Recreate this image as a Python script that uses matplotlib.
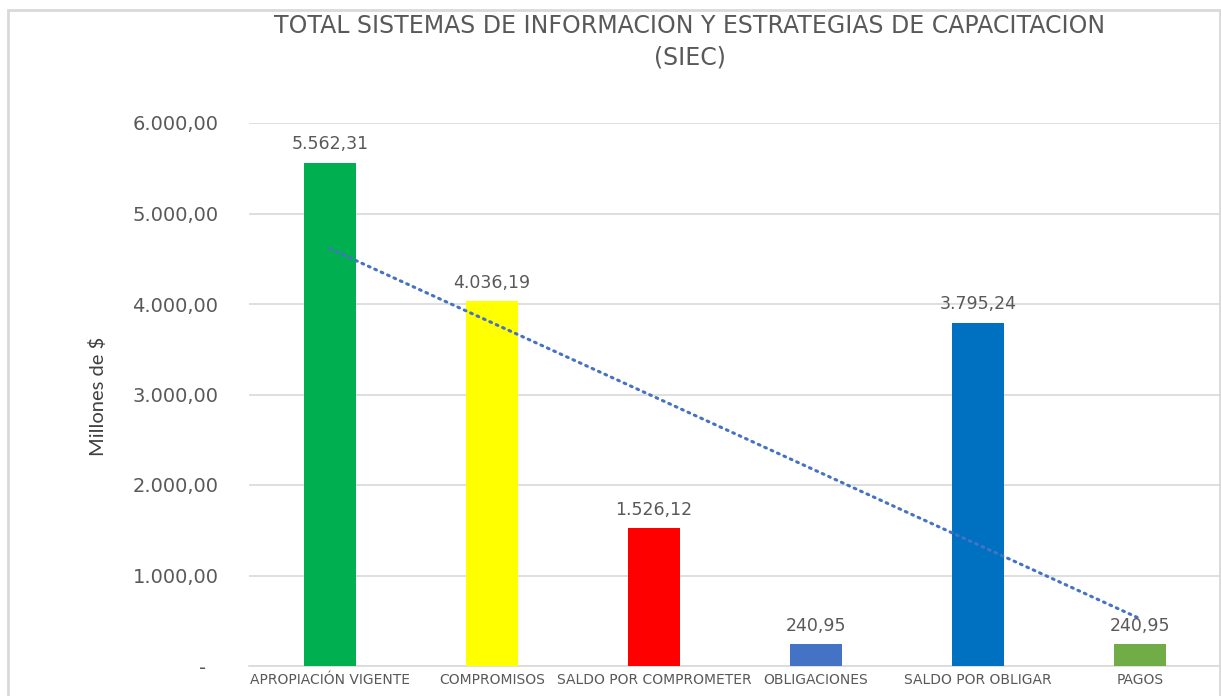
import numpy as np
import matplotlib
matplotlib.use("Agg")
from matplotlib import pyplot as plt
from matplotlib.patches import Rectangle
from matplotlib.ticker import FuncFormatter

# datos del grafico (millones de $)
categorias = ["APROPIACIÓN VIGENTE", "COMPROMISOS", "SALDO POR COMPROMETER",
              "OBLIGACIONES", "SALDO POR OBLIGAR", "PAGOS"]
valores = [5562.31, 4036.19, 1526.12, 240.95, 3795.24, 240.95]
colores = ["#00B050", "#FFFF00", "#FF0000", "#4472C4", "#0070C0", "#70AD47"]
ticks_y = [0, 1000, 2000, 3000, 4000, 5000, 6000]

gris = "#595959"
linea = "#D9D9D9"


def formato_es(v):
    s = f"{v:,.2f}"
    return s.replace(",", "X").replace(".", ",").replace("X", ".")


fig = plt.figure(figsize=(12.21, 6.96), dpi=100)
ax = fig.add_axes([249 / 1221, 1 - 666 / 696, 972 / 1221, (666 - 123) / 696])

x = np.arange(len(categorias))
ax.bar(x, valores, width=0.315, color=colores, zorder=3)

# linea de tendencia lineal (como en Excel)
m, b = np.polyfit(x, valores, 1)
ax.plot(x, m * x + b, color="#4472C4", lw=2.2, ls=(0, (0.6, 1.7)),
        dash_capstyle="round", zorder=4)

for xi, v in zip(x, valores):
    ax.annotate(formato_es(v), (xi, v), xytext=(0, 9.5), textcoords="offset points",
                ha="center", va="baseline", fontsize=12.5, color=gris, zorder=5)

ax.set_xlim(-0.5, 5.5)
ax.set_ylim(0, 6000)
ax.set_yticks(ticks_y)
ax.yaxis.set_major_formatter(FuncFormatter(lambda v, p: "-  " if v == 0 else formato_es(v)))
ax.set_xticks(x)
ax.set_xticklabels(categorias, fontsize=10, color=gris)
ax.tick_params(axis="x", length=0, pad=5)
ax.tick_params(axis="y", length=0, pad=22, labelsize=14, labelcolor=gris)

ax.grid(axis="y", color=linea, lw=1.2, zorder=0)
for s in ["top", "right", "left"]:
    ax.spines[s].set_visible(False)
ax.spines["bottom"].set_color(linea)
ax.spines["bottom"].set_linewidth(1.2)

ax.set_ylabel("Millones de $", fontsize=14.5, color="#404040", family="Lato")
ax.yaxis.set_label_coords(107 / 1221, 1 - 396 / 696, transform=fig.transFigure)

fig.text(690 / 1221, 1 - 26 / 696, "TOTAL SISTEMAS DE INFORMACION Y ESTRATEGIAS DE CAPACITACION",
         ha="center", va="center", fontsize=17, color=gris)
fig.text(690 / 1221, 1 - 57 / 696, "(SIEC)", ha="center", va="center", fontsize=17, color=gris)

# marco del area del grafico
fig.patches.append(Rectangle((8 / 1221, -0.1), (1220 - 8) / 1221, 1.1 - 10 / 696,
                             transform=fig.transFigure, fill=False,
                             edgecolor=linea, lw=2))

fig.savefig("out.png", dpi=100)
